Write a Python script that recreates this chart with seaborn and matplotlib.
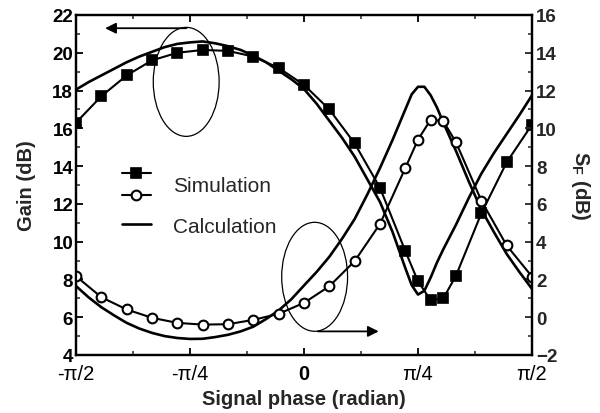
import numpy as np
import pandas as pd
import matplotlib
matplotlib.use("Agg")
import matplotlib.pyplot as plt
import seaborn as sns
from matplotlib.lines import Line2D
from matplotlib.patches import Ellipse
from matplotlib.legend_handler import HandlerBase
from matplotlib.ticker import MultipleLocator, FixedLocator

# ---------------- data (phase in degrees) ----------------
sim_phase = [-90, -80, -70, -60, -50, -40, -30, -20, -10, 0, 10, 20, 30, 40,
             45, 50, 55, 60, 70, 80, 90]
sim_gain = [16.3, 17.7, 18.8, 19.6, 20.0, 20.15, 20.1, 19.8, 19.2, 18.3, 17.0,
            15.2, 12.85, 9.5, 7.9, 6.9, 7.0, 8.2, 11.5, 14.2, 16.2]
sim_sf = [2.17, 1.06, 0.41, -0.03, -0.3, -0.39, -0.37, -0.14, 0.18, 0.76, 1.64,
          2.97, 4.94, 7.9, 9.4, 10.46, 10.38, 9.26, 6.17, 3.8, 2.15]

calc_phase = [-90, -85, -80, -75, -70, -65, -60, -55, -50, -45, -40, -35, -30,
              -25, -20, -15, -10, -5, 0, 5, 10, 15, 20, 25, 30, 35, 40, 42.5,
              45, 47.5, 50, 52.5, 55, 60, 65, 70, 75, 80, 85, 90]
calc_gain = [18.05, 18.45, 18.8, 19.15, 19.5, 19.8, 20.05, 20.3, 20.47, 20.55,
             20.6, 20.5, 20.35, 20.15, 19.85, 19.5, 19.05, 18.6, 18.08, 17.3,
             16.4, 15.5, 14.5, 13.3, 12.1, 10.5, 8.6, 7.7, 7.2, 7.4, 8.1, 8.9,
             9.6, 10.9, 12.3, 13.6, 14.7, 15.7, 16.7, 17.75]
calc_sf = [1.65, 1.05, 0.53, 0.1, -0.3, -0.6, -0.83, -1.0, -1.1, -1.15, -1.14,
           -1.05, -0.93, -0.75, -0.5, -0.1, 0.36, 0.95, 1.68, 2.4, 3.2, 4.15,
           5.2, 6.5, 7.9, 9.4, 11.0, 11.8, 12.2, 12.2, 11.75, 11.1, 10.3, 8.8,
           7.2, 5.7, 4.5, 3.35, 2.4, 1.5]

xtick_pos = [-90, -45, 0, 45, 90]
xtick_labels = ["-\u03c0/2", "-\u03c0/4", "0", "\u03c0/4", "\u03c0/2"]

sim_df = pd.DataFrame({"phase": sim_phase, "gain": sim_gain, "sf": sim_sf})
calc_df = pd.DataFrame({"phase": calc_phase, "gain": calc_gain, "sf": calc_sf})

# ---------------- style ----------------
sns.set_style("ticks")
plt.rcParams["font.family"] = ["Liberation Sans", "DejaVu Sans"]

fig = plt.figure(figsize=(6.0, 4.14), dpi=100)
ax = fig.add_axes([76 / 600, 1 - 356 / 414, 456 / 600, 340 / 414])
ax2 = ax.twinx()

LW_SIM = 1.5
LW_CALC = 1.9
MS = 7

sns.lineplot(data=sim_df, x="phase", y="gain", ax=ax, color="black",
             lw=LW_SIM, marker="s", markersize=MS, markeredgecolor="black",
             markerfacecolor="black", markeredgewidth=1.2)
sns.lineplot(data=calc_df, x="phase", y="gain", ax=ax, color="black",
             lw=LW_CALC)
sns.lineplot(data=calc_df, x="phase", y="sf", ax=ax2, color="black",
             lw=LW_CALC)
sns.lineplot(data=sim_df, x="phase", y="sf", ax=ax2, color="black",
             lw=LW_SIM, marker="o", markersize=MS, markeredgecolor="black",
             markerfacecolor="white", markeredgewidth=1.5)

# ---------------- axes ----------------
ax.set_xlim(-90, 90)
ax.set_ylim(4, 22)
ax2.set_ylim(-2, 16)
ax.xaxis.set_major_locator(FixedLocator(xtick_pos))
ax.xaxis.set_minor_locator(FixedLocator([-67.5, -22.5, 22.5, 67.5]))
ax.set_xticklabels(xtick_labels)
ax.yaxis.set_major_locator(MultipleLocator(2))
ax.yaxis.set_minor_locator(MultipleLocator(1))
ax2.yaxis.set_major_locator(MultipleLocator(2))
ax2.yaxis.set_minor_locator(MultipleLocator(1))

for a in (ax, ax2):
    for s in a.spines.values():
        s.set_linewidth(1.6)
        s.set_color("black")

ax.tick_params(axis="both", which="major", direction="in", length=5, width=1.3,
               colors="black", labelsize=13.5)
ax.tick_params(axis="both", which="minor", direction="in", length=3, width=1.1)
ax.tick_params(axis="x", which="both", top=True, bottom=True, pad=6.5)
ax.tick_params(axis="y", which="both", left=True, right=False, pad=2)
ax2.tick_params(axis="y", which="major", direction="in", length=5, width=1.3,
                labelsize=13.5, pad=3)
ax2.tick_params(axis="y", which="minor", direction="in", length=3, width=1.1)

for lab in ax.get_yticklabels() + ax2.get_yticklabels():
    lab.set_fontweight("bold")
for lab, txt in zip(ax.get_xticklabels(), xtick_labels):
    lab.set_fontweight("bold" if txt == "0" else "normal")
    lab.set_fontsize(14.5)

ax.set_xlabel("Signal phase (radian)", fontsize=14.5, fontweight="bold",
              labelpad=4)
ax.set_ylabel("Gain (dB)", fontsize=14.5, fontweight="bold", labelpad=12)
ax2.set_ylabel("S$_\\mathregular{F}$ (dB)", fontsize=14.5, fontweight="bold",
               rotation=270, labelpad=25)

# ---------------- annotations ----------------
ax.add_patch(Ellipse((-46.5, 18.46), 26.0, 5.77, fill=False, lw=0.9,
                     edgecolor="black", zorder=5))
ax.add_patch(Ellipse((4.2, 8.14), 26.0, 5.77, fill=False, lw=0.9,
                     edgecolor="black", zorder=5))
ax.annotate("", xy=(-78.5, 21.3), xytext=(-46.4, 21.3),
            arrowprops=dict(arrowstyle="-|>", lw=1.3, color="black",
                            mutation_scale=16, shrinkA=0, shrinkB=0))
ax.annotate("", xy=(29.5, 5.25), xytext=(5.5, 5.25),
            arrowprops=dict(arrowstyle="-|>", lw=1.3, color="black",
                            mutation_scale=16, shrinkA=0, shrinkB=0))


# ---------------- legend ----------------
class HandlerStack(HandlerBase):
    def create_artists(self, legend, orig_handle, xdescent, ydescent, width,
                       height, fontsize, trans):
        arts = []
        yc = -ydescent + height / 2
        for k, h in enumerate(orig_handle):
            y = yc + 7.9 - 15.8 * k
            ln = Line2D([-xdescent, -xdescent + width / 2, -xdescent + width],
                        [y, y, y], color="black",
                        lw=h.get_linewidth(), marker=h.get_marker(),
                        markersize=h.get_markersize(),
                        markerfacecolor=h.get_markerfacecolor(),
                        markeredgecolor="black",
                        markeredgewidth=h.get_markeredgewidth(),
                        markevery=[1])
            ln.set_transform(trans)
            arts.append(ln)
        return arts


h_sq = Line2D([], [], color="black", lw=LW_SIM, marker="s", markersize=MS,
              markerfacecolor="black", markeredgewidth=1.2)
h_ci = Line2D([], [], color="black", lw=LW_SIM, marker="o", markersize=MS,
              markerfacecolor="white", markeredgewidth=1.5)
h_calc = Line2D([], [], color="black", lw=LW_CALC)

leg = ax.legend([(h_sq, h_ci), h_calc], ["Simulation", "Calculation"],
                handler_map={tuple: HandlerStack()}, loc="upper left",
                bbox_to_anchor=(0.1, 0.527), frameon=False, fontsize=15,
                handlelength=1.4, handletextpad=1.05, labelspacing=1.05,
                borderpad=0, borderaxespad=0)

fig.savefig("out.png", dpi=100)
